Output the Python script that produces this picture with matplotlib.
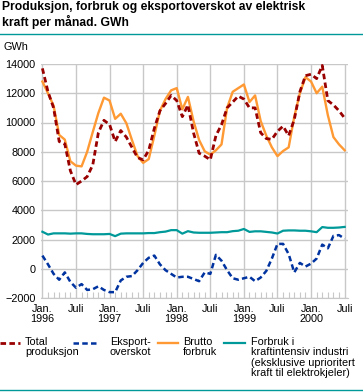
import numpy as np
import matplotlib
matplotlib.use('Agg')
import matplotlib.pyplot as plt
from matplotlib.lines import Line2D

plt.rcParams['font.family'] = ['Liberation Sans', 'DejaVu Sans']

# monthly values, Jan 1996 - Jul 2000 (GWh)
months = np.arange(55)

total_produksjon = [13700, 12100, 11000, 8700, 8540, 6700, 5750, 6000, 6300, 7100,
                    9300, 10150, 9860, 8700, 9450, 9000, 8300, 7600, 7450, 8100,
                    9600, 10800, 11300, 11850, 11500, 10400, 11200, 9300, 7900, 7700,
                    7450, 9100, 9850, 11000, 11400, 11800, 11600, 11000, 11000, 9300,
                    8900, 8850, 9400, 9750, 9100, 10200, 12100, 13200, 13300, 13000,
                    13900, 11500, 11200, 10800, 10300]

eksportoverskot = [900, 300, -350, -750, -250, -900, -1300, -1050, -1450, -1400,
                   -1200, -1450, -1600, -1600, -800, -550, -500, -100, 400, 750,
                   900, 300, -100, -350, -600, -550, -550, -700, -850, -250,
                   -350, 950, 550, -100, -650, -750, -650, -550, -850, -600,
                   -150, 700, 1700, 1700, 1000, -250, 400, 150, 350, 700,
                   1650, 1400, 2250, 2300, 2050]

brutto_forbruk = [12800, 12000, 11150, 9150, 8830, 7350, 7050, 7000, 8000, 9350,
                  10650, 11700, 11500, 10250, 10600, 9950, 8800, 7700, 7240, 7500,
                  9100, 10800, 11600, 12200, 12350, 10900, 11750, 10100, 8800, 8030,
                  7800, 8100, 8500, 11000, 12100, 12350, 12600, 11400, 11850, 10100,
                  9100, 8300, 7700, 8050, 8300, 10400, 12000, 13100, 12800, 12000,
                  12450, 10500, 9000, 8500, 8100]

kraftintensiv = [2530, 2340, 2420, 2420, 2420, 2400, 2420, 2420, 2380, 2360,
                 2360, 2360, 2380, 2230, 2400, 2420, 2420, 2420, 2420, 2440,
                 2440, 2500, 2540, 2640, 2640, 2400, 2570, 2480, 2460, 2460,
                 2460, 2480, 2500, 2500, 2570, 2600, 2720, 2520, 2560, 2560,
                 2520, 2480, 2410, 2600, 2620, 2620, 2600, 2600, 2560, 2500,
                 2850, 2800, 2800, 2820, 2860]

tick_pos = [0, 6, 12, 18, 24, 30, 36, 42, 48, 54]
tick_labels = ['Jan.\n1996', 'Juli', 'Jan.\n1997', 'Juli', 'Jan.\n1998', 'Juli',
               'Jan.\n1999', 'Juli', 'Jan.\n2000', 'Juli']

red = '#990000'
blue = '#0033a0'
orange = '#ff9933'
teal = '#009999'
grid = '#c8c8c8'

fig = plt.figure(figsize=(3.63, 3.92), dpi=100)
W, H = 363, 392
ax = fig.add_axes([41 / W, 1 - 298 / H, (348 - 41) / W, (298 - 64) / H])

ax.plot(months, kraftintensiv, color=teal, lw=1.6, zorder=3)
ax.plot(months, eksportoverskot, color=blue, lw=1.8, dashes=(2.2, 1.3), zorder=4)
ax.plot(months, brutto_forbruk, color=orange, lw=1.7, zorder=5)
ax.plot(months, total_produksjon, color=red, lw=2.0, dashes=(2.0, 1.2), zorder=6)

ax.set_xlim(-0.25, 54.6)
ax.set_ylim(-2000, 14000)
ax.set_yticks(range(-2000, 14001, 2000))
ax.set_xticks(tick_pos)
ax.set_xticklabels(tick_labels, fontsize=7.8, linespacing=1.1)
ax.set_xticks(months, minor=True)
ax.tick_params(axis='y', length=0, labelsize=7.8, pad=4)
ax.tick_params(axis='x', which='major', length=0, pad=4)
ax.tick_params(axis='x', which='minor', direction='in', length=4, width=0.8, color=grid)
ax.grid(True, color=grid, lw=1)
ax.set_axisbelow(True)
for s in ['top', 'right', 'left']:
    ax.spines[s].set_visible(False)
ax.spines['bottom'].set_color(grid)

# title and unit
fig.text(2 / W, 1 - 1 / H, 'Produksjon, forbruk og eksportoverskot av elektrisk\nkraft per månad. GWh',
         fontsize=8.7, fontweight='bold', va='top', ha='left', linespacing=1.2)
fig.add_artist(Line2D([0, 1], [1 - 33.5 / H] * 2, color=teal, lw=1))
fig.add_artist(Line2D([0, 1], [1 - 390 / H] * 2, color=teal, lw=1))
fig.text(3 / W, 1 - 47 / H, 'GWh', fontsize=7.8, va='center', ha='left')

# legend
ly = 1 - 343 / H
items = [
    (0, 20, 25, red, (2.0, 1.2), 2.0, 'Total\nproduksjon'),
    (73, 97, 110, blue, (2.2, 1.3), 1.8, 'Eksport-\noverskot'),
    (158, 178, 183, orange, None, 1.7, 'Brutto\nforbruk'),
    (224, 245, 251, teal, None, 1.6, 'Forbruk i\nkraftintensiv industri\n(eksklusive uprioritert\nkraft til elektrokjeler)'),
]
for x0, x1, xt, c, d, lw, label in items:
    ln = Line2D([x0 / W, x1 / W], [ly, ly], color=c, lw=lw)
    if d:
        ln.set_dashes(d)
    fig.add_artist(ln)
    fig.text(xt / W, 1 - 337 / H, label, fontsize=7.8, va='top', ha='left', linespacing=1.05)

fig.savefig('out.png', dpi=100)
